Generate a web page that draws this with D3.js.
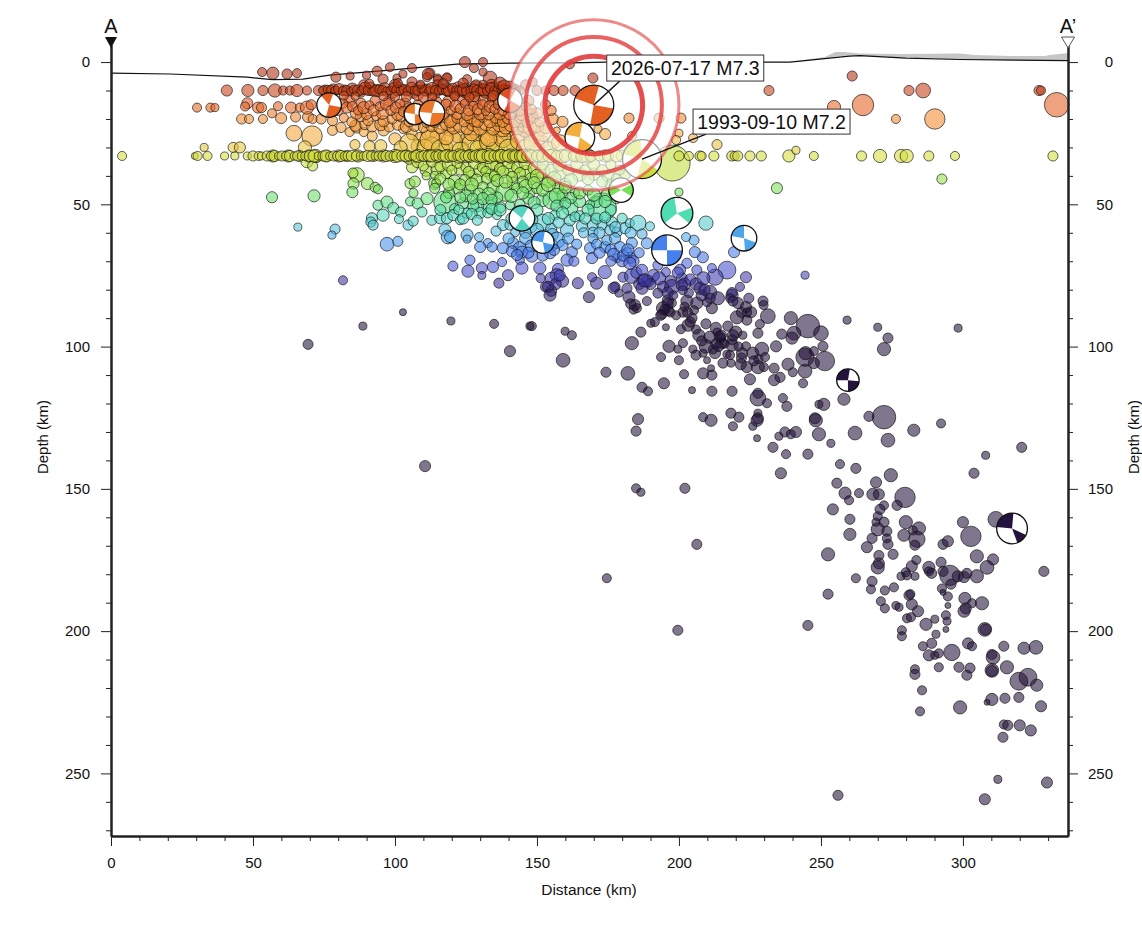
<!DOCTYPE html>
<html>
<head>
<meta charset="utf-8">
<title>Depth section A-A'</title>
<script src="https://cdn.jsdelivr.net/npm/d3@7"></script>
<style>
    html, body { margin: 0; padding: 0; background: #fff; }
    text { font-family: "Liberation Sans", Arial, sans-serif; fill: #111; }
    .axis path, .axis line { stroke: #222; }
    .axis text { font-size: 15px; }
</style>
</head>
<body>
<div id="chart-container"></div>
<script>
// every row below: distance along profile (km), depth (km), magnitude
var surfaceEvents = [[53.2,3.5,4.3],[57,3.9,4.6],[62,4.2,4.4],[65.5,3.9,4.3],[79.2,5.3,4.4],[84.2,4.9,4.2],[90,4.6,4.2],[93.7,3.2,4.4],[98.2,1.8,4.3],[95.8,6,4.4],[100.7,5.6,4.2],[102.8,4.2,4.2],[106,2.1,4.3],[112.3,3.9,4.4],[111.3,5.3,4.3],[106,7,4.4],[115,5.6,4.2],[118.3,5.3,4.2],[124.6,0,4.5],[131,0,4.3],[127.8,2.1,4.3],[133.5,5.6,4.75],[131,3.5,4.2],[111.6,4.2,4.5],[118.3,5.6,4.4],[115,6.3,4.3],[125.4,6,4.3],[161.6,0.8,4.3],[169.7,5.6,4.4],[261,4.9,4.4]];

var band10 = [[40.8,10,4.5],[48.2,10,4.6],[53.5,10,4.4],[57.7,10,4.7],[60.6,10,4.3],[63,10,4.3],[65.5,10,4.6],[69,10,4.3],[73,10,4.4],[74.7,10,4.3],[76.2,9.6,4.2],[77.5,10,4.4],[79,10,4.3],[80.3,9.5,4.5],[81.6,10.2,4.3],[83,10,4.4],[84.4,10.4,4.2],[85.5,9.7,4.3],[87,10,4.5],[88.2,10,4.3],[89.5,9.2,4.6],[90.6,10,4.4],[92,10.3,4.3],[93.1,10,4.5],[94.5,9.6,4.3],[95.7,10,4.4],[97,10.4,4.3],[98.2,10,4.2],[99.6,9,4.4],[100.8,10,4.5],[102,10,4.3],[103.2,9.7,4.4],[104.5,10.2,4.3],[105.8,9,4.5],[107,10,4.3],[108.1,10,4.4],[109.4,9.5,4.2],[110.7,10,4.5],[112,10.3,4.3],[113,9.3,4.6],[114.3,10,4.4],[115.5,10,4.3],[116.8,9.6,4.4],[118,10.2,4.3],[119,10,4.5],[120.4,9.2,4.4],[121.6,10,4.3],[123,10,4.5],[124.1,9.7,4.6],[125.2,10.2,4.4],[126.6,10,4.3],[127.8,9.4,4.4],[129,10,4.5],[130.1,10.3,4.3],[131.4,9.8,4.6],[132.6,10,4.4],[133.8,9.2,4.5],[135,10,4.3],[136.2,10.2,4.4],[137.5,9.6,4.3],[138.6,10,4.5],[139.8,10,4.4],[141,10,4.3],[142.4,9.6,4.4],[144,10,4.3],[146,8,4.4],[148.5,7,4.3],[150,10,4.4],[153,10,4.3],[156,10,4.4],[159.2,10,4.4],[163.4,10,4.4],[231.7,10,4.4],[281,10,4.4],[286,10,4.85],[326.8,10,4.4],[327.5,10,4.3]];

var extra10 = [[75.4,10,4.5],[78.3,9.8,4.6],[82.2,10,4.5],[85,9.5,4.6],[88,10.4,4.5],[91.2,9.4,4.7],[94,10,4.6],[96.4,9.2,4.5],[99,10.6,4.6],[101.4,9.4,4.7],[103.8,10,4.5],[106.4,10.6,4.6],[108.8,9.2,4.7],[111.3,9.8,4.6],[113.6,10.6,4.8],[116.2,9.4,4.6],[118.6,9.8,4.7],[120.8,10.6,4.5],[122.4,9.2,4.7],[124.7,10,4.8],[127,10.6,4.7],[128.4,9.2,4.8],[130.6,9.6,4.6],[132,10.4,4.7],[134.4,9.6,4.8],[135.6,10.8,4.5],[137,9.2,4.7],[139,10.4,4.8],[140.4,9,4.7],[142,10.6,4.6],[126,11,4.7],[115,8,4.4],[128.6,8.2,4.5],[134,8,4.5],[100,8,4.5],[89,8,4.4],[108,11.6,4.5],[121,11.4,4.4]];

var upperCrust = [[82,11.8,4.3],[86,12,4.2],[91,7.6,4.3],[96,12,4.3],[101,7.4,4.3],[104,12.2,4.4],[109,7.8,4.2],[113,12.4,4.3],[117,7.6,4.4],[121,12,4.3],[124,7.4,4.4],[128,12.2,4.4],[131,7.8,4.2],[134,12.4,4.3],[137,7.4,4.6],[140,12,4.5],[143,12.6,4.3],[134.6,11.8,4.4],[138.4,8.4,4.6],[126.2,12.4,4.3],[110,12.4,4.4],[100,12.2,4.3]];

var band15 = [[30.3,16,4.3],[35,16,4.3],[36.6,16,4.2],[48,14.5,4.5],[47.2,15.6,4.3],[51.8,16,4.5],[53,16,4.4],[58.8,15.5,4.3],[63.4,16,4.5],[66.5,16,4.3],[69,16,4.7],[70.5,15,4.4],[83,16,4.5],[85,15.6,4.4],[87,17,4.3],[89,16,4.6],[91,15.2,4.3],[92.5,17,4.5],[94.6,15.6,4.3],[97,14.8,4.6],[98.6,17,4.4],[100.3,16,4.5],[101.8,14.6,4.3],[103,17.4,4.4],[118,15,4.5],[119.6,17,4.3],[121.4,15.5,4.6],[123,16.4,4.4],[124.6,14.6,4.3],[126,17,4.5],[127.6,15.4,4.3],[129.2,16.6,4.5],[130.8,15,4.4],[132,17.2,4.3],[133.6,15.6,4.6],[135.2,16.5,4.4],[136.6,14.8,4.5],[138,17,4.4],[139.5,15.6,4.5],[141,16.4,4.3],[142.5,15,4.4],[144,17,4.5],[146,15.5,4.3],[148,16.6,4.4]];

var extra15 = [[84,13.8,4.5],[86.4,18,4.6],[88,14.4,4.4],[90,18.2,4.5],[93,13.6,4.4],[95.6,18,4.6],[98,13.8,4.5],[101,18.4,4.6],[103.6,14.6,4.5],[105,16.4,4.6],[108,15,4.4],[110,17,4.5],[114.5,14,4.5],[117,18,4.6],[119,13.8,4.6],[122,18.2,4.5],[124,13.4,4.5],[125.4,18.4,4.6],[128,14,4.7],[130,18.2,4.6],[131.4,13.4,4.6],[133,18.4,4.5],[135,13.8,4.7],[137,18.2,4.6],[138.6,13.6,4.6],[140.5,18,4.7],[142,13.8,4.6],[144.6,18.6,4.5],[147,13.6,4.5],[150,18,4.5],[153,15,4.4],[155,17,4.4],[80,17,4.4],[81.6,14.5,4.4]];

var band20 = [[46,20,4.4],[48.6,20,4.3],[53.5,20,4.3],[56.7,18,4.3],[59.9,19.7,4.5],[65,19.3,4.4],[69.4,19.3,4.5],[71,20,4.3],[74,20,4.4],[78,20.6,4.4],[82,19.6,4.3],[84.8,21,4.4],[88,19,4.5],[90.5,20.6,4.4],[93.4,19,4.3],[96,20.8,4.5],[99,20,4.4],[102,19.4,4.3],[105,21,4.4],[108,20,4.3],[111,21.5,4.2],[114,21,4.5],[117,19.4,4.4],[119.5,21,4.6],[122,19.6,4.5],[124.4,21,4.4],[126.6,19.5,4.6],[129,21,4.5],[131,19.4,4.4],[133.4,21,4.6],[135.6,19.6,4.5],[138,21,4.5],[140,19.5,4.7],[142.2,21,4.5],[144.4,19.6,4.6],[146.6,21,4.5],[148.8,19.6,4.4],[151,21,4.4],[159,21,4.5],[182.4,19.7,4.4],[193,19.7,4.4],[200.7,19.7,4.4],[254.6,15.8,4.7],[264.8,15.1,5.5],[276.4,20,4.3],[290.1,20,5.4],[333,15,5.8]];

var extra20 = [[86,22.4,4.5],[89.4,22,4.4],[92,22.6,4.5],[95,22,4.6],[98,22.8,4.4],[101,22,4.5],[104,22.6,4.6],[107,22.4,4.5],[110,23,4.4],[113,22.4,4.6],[116,22.8,4.7],[118,22,4.5],[120.6,23,4.7],[123,22.2,4.8],[125.4,23.4,4.6],[127.6,22,4.7],[130,23.2,4.8],[132,22,4.6],[134.6,23.4,4.7],[136.8,22,4.8],[139,23,4.7],[141,22,4.8],[143.2,23.4,4.6],[145.4,22.4,4.7],[147.6,23.2,4.8],[150,22.4,4.7],[153,23,4.6],[155.6,20,4.5],[148,18.6,4.6],[144,20.6,4.7],[136,20.4,4.6],[128,20.4,4.7],[120,20.4,4.6],[112,19.6,4.5]];

var band25 = [[64.4,25,4.95],[70.8,26,5.4],[68.3,30,4.7],[32.8,30,4.2],[43,30,4.4],[45.4,30,4.5],[78,24,4.4],[81,23,4.4],[84,24.6,4.3],[86.5,23,4.5],[89,24.6,4.3],[92,26,4.4],[96,24,4.5],[85.9,29,4.4],[100,27,4.6],[103,23.4,4.4],[106,25.4,4.5],[109,27,4.7],[112,24.6,5.0],[115,26,4.9],[119,24,4.5],[122,26,4.7],[125,27,4.6],[128,24.5,4.7],[131,26,4.8],[134,24,4.6],[137,26,4.9],[140,24,4.7],[143,26,4.8],[146,24,4.7],[148,27,4.9],[150,25,4.8],[152,28,4.6],[108,29.5,4.7],[113,29,4.9],[118,29.8,4.7],[124,30,4.5],[130,28.5,4.8],[136,29,5.0],[142,29.5,4.9],[157,24,4.1],[165,24,4.2],[171.5,23.6,4.2],[174,25.3,4.5],[183.5,26,4.3],[200,25,4.2],[199,27.4,4.3],[205,26.7,4.3],[213.4,29,4.4],[150,31,4.9],[156,28,4.7],[162,30,4.5]];

var extra25 = [[105,28.6,5.3],[110.6,30,5.0],[112.4,27.4,5.4],[116,30.5,5.2],[120,28,5.5],[123,31,5.0],[127,28.8,5.3],[129.4,30.6,5.1],[133,28,5.2],[135,31,5.0],[138,27,5.1],[140,30.5,5.3],[144,27.6,5.3],[146,30.4,5.2],[149,28.4,5.4],[152,25,5.0],[154,31,5.1],[158,28.4,5.0],[127,25,4.9],[138,23.6,4.9],[146,23.6,5.0],[133,26.8,5.0],[118,26.6,4.8],[102,30,4.7],[95,29.4,4.6],[91,29.6,4.5]];

var band33 = [[3.9,33,4.3],[29.5,33,4.1],[30.5,33,4.3],[34,33,4.3],[40,33,4.2],[43.6,33,4.2],[48,33,4.2],[50,33,4.4],[52,33,4.3],[53,33,4.2],[55,33,4.4],[56.3,33,4.3],[57.6,33,4.5],[59,33,4.2],[60.2,33,4.4],[61.6,33,4.3],[63,33,4.5],[64.5,33,4.2],[65.7,33,4.4],[67,33,4.2],[68.4,33,4.3],[70,33,4.5],[71.5,33,4.6],[73,33,4.2],[74.6,33,4.4],[75.8,33,4.6],[77,33,4.2],[78.4,33,4.4],[79.6,33,4.3],[81,33,4.5],[82.3,33,4.3],[83.5,33,4.4],[84.8,33,4.5],[86.4,33,4.4],[87.8,33,4.2],[89,33,4.3],[90.4,33,4.5],[91.7,33,4.4],[93,33,4.2],[94.4,33,4.4],[95.6,33,4.3],[97,33,4.5],[98.3,33,4.4],[99.5,33,4.3],[101,33,4.6],[102.4,33,4.4],[103.7,33,4.5],[105,33,4.4],[106.2,33,4.2],[107.5,33,4.5],[109,33,4.3],[110.3,33,4.5],[111.6,33,4.4],[113,33,4.6],[114.2,33,4.3],[115.6,33,4.5],[116.8,33,4.4],[118,33,4.6],[119.4,33,4.4],[120.6,33,4.5],[122,33,4.3],[123.4,33,4.6],[124.6,33,4.4],[126,33,4.5],[127.2,33,4.3],[128.6,33,4.6],[129.8,33,4.5],[131,33,4.7],[132.4,33,4.4],[133.6,33,4.6],[135,33,4.5],[136.2,33,4.4],[137.6,33,4.7],[138.8,33,4.5],[140,33,4.6],[141.4,33,4.4],[142.6,33,4.6],[144,33,4.5],[145.2,33,4.7],[146.4,33,4.4],[148,33,4.6],[150,33,4.5],[152,33,4.6],[154.5,33,4.7],[157,33,4.5],[160,33,4.6],[163,33,4.5],[166,33,4.7],[169,33,4.5],[172,33,4.4],[175,33,4.5],[178,33,4.6],[183,33,4.5],[191,33,4.7],[197.6,35.5,6.9],[200,33,4.4],[203.5,33,4.3],[207.4,33,4.4],[208,33,4.3],[212.3,33,4.4],[218.6,33,4.4],[219.6,33,4.3],[220.7,33,4.4],[225,33,4.4],[229,33,4.4],[238.7,33,4.6],[241.2,31,4.2],[247.5,33,4.3],[264.3,33,4.4],[270.8,33,4.7],[278.2,33,4.7],[280.2,33,4.7],[288,33,4.4],[297.2,33,4.3],[331.7,33,4.4]];

var extra33 = [[57,33,4.6],[62.4,33,4.6],[66.4,33,4.5],[69.6,33,4.6],[72,33,4.7],[76,33,4.5],[80.2,33,4.6],[83,33,4.5],[87,33,4.6],[92.4,33,4.5],[96,33,4.6],[100,33,4.7],[104,33,4.6],[108,33,4.7],[112,33,4.6],[115,33,4.7],[118.6,33,4.7],[122.6,33,4.8],[126.4,33,4.7],[130,33,4.8],[133,33,4.9],[136.8,33,4.7],[140.6,33,4.8],[144.6,33,4.7],[147,33,4.8],[151,33,4.7],[155.6,33,4.8],[159,33,4.7],[164,33,4.6],[168,33,4.8],[174,33,4.6],[180,33,4.6]];

var limeEvents = [[69,35,4.6],[71,36.5,4.4],[72.5,33.5,4.4],[105,34,4.5],[108,35,4.6],[110,36.5,4.4],[113,35,4.5],[116,36.6,4.5],[119,36,4.7],[122,35.4,4.5],[125,37,4.4],[128,35.5,4.6],[131,37,4.5],[134,35.6,4.7],[137,37.5,4.5],[140,35.4,4.6],[143,37,4.5],[146,35.5,4.7],[149,37.4,4.6],[152,36,4.5],[155,38,4.6],[158,36,4.7],[161,38,4.5],[164,36,4.6],[167,38,4.5],[170,36,4.6],[173,38,4.5],[176,36,4.4],[179,38,4.4],[150,40,4.7],[156,41,4.8],[162,41.5,4.7],[168,41,4.6],[173,42,4.5],[178,41,4.4],[120,38,4.4],[126,38.6,4.5],[132,38.4,4.4],[138,38.6,4.6],[144,39,4.5]];

var extraLime = [[106,37,4.5],[111,38,4.6],[115,37.6,4.7],[118,39,4.5],[123,37.6,4.6],[127,40,4.5],[130,38,4.7],[134,39.6,4.6],[136,36.4,4.7],[141,38,4.8],[146,38.6,4.7],[148,41,4.6],[152,38.4,4.8],[154,42,4.6],[158,39,4.7],[160,43,4.6],[165,39.6,4.7],[170,39.4,4.6],[175,40,4.6],[176,43,4.5],[181,39.5,4.5],[183,36.5,4.5],[186,35,4.5],[188,37.4,4.4]];

var greenEvents = [[86.6,39.7,4.85],[85.2,39,4.4],[85.4,42.7,4.5],[85,45.7,4.5],[90.3,42.7,4.6],[93,44,4.4],[94,44.7,4.3],[56.7,47.5,4.5],[71.5,47,4.6],[105.3,42.7,4.4],[107,42,4.5],[106.5,46,4.3],[105.3,49,4.3],[108,49.7,4.5],[111.3,48,4.6],[114,42.6,4.6],[114.5,42.6,4.3],[114,44.4,4.4],[111,40,4.2],[114,39.8,4.2],[117.6,49.2,5.6],[121,42,4.7],[124.6,41.5,4.5],[128.8,41.5,4.6],[132.4,41,4.5],[122,44.4,4.5],[126.4,45,4.5],[131,44,4.5],[134.5,44,4.6],[138.7,45.7,5.2],[141.6,42.6,4.6],[141.2,40.4,4.5],[147.5,46,4.4],[150,44.3,4.5],[152,48.5,4.7],[155.3,48.5,5.2],[157.4,44.3,4.5],[159,46.8,4.5],[163.4,46,4.3],[172.9,51,6.2],[178,48,4.4],[171,49.2,4.5],[168.7,50,4.3],[161.6,51,5.0],[180,46,4.3],[133.4,50.3,5.0],[129,50.3,4.7],[124,49.6,4.5],[121,51.5,4.4],[127.6,50.7,4.5],[137,51,4.5],[140.5,50.3,4.3],[200,45.7,4.2],[234.5,44.3,4.5],[292.6,41.1,4.4],[145,42,4.5],[147,48,4.5],[135,40,4.4],[119,46,4.5],[125,47,4.6],[136,47.6,4.5],[144,50,4.4],[165,49,4.6],[176,52,4.5]];

var extraGreen = [[116,41,4.5],[119,43,4.6],[123,43,4.5],[127,43,4.7],[129.6,46.4,4.6],[133,46.4,4.7],[136,41.6,4.6],[139,42,4.7],[143,44.4,4.5],[146,43.6,4.7],[149,42.4,4.6],[152,45,4.6],[154,43,4.8],[157,47,4.9],[160,44,4.6],[162,47.8,4.5],[165,46,4.6],[168,45,4.4],[170,46.6,4.7],[175,46.4,4.7],[118,47.6,4.5],[123,47.6,4.5],[127.4,48,4.5],[131,48,4.6],[134,48.4,4.5],[141,47,4.7],[145,46,4.6],[149,49.4,4.6],[157,50.6,4.6],[160,49.6,4.5],[168,52,4.6],[174,49,4.6]];

var tealEvents = [[91.9,54.9,4.5],[91.5,56.2,4.4],[92.3,57.3,4.4],[95.8,53.8,4.6],[94,50.3,4.4],[97.2,49.2,4.6],[99.4,51.3,4.5],[102,52.7,4.4],[101.4,55.2,4.3],[104.6,57.3,4.4],[106.4,55.9,4.4],[109.5,52.7,4.4],[113,55.6,4.4],[115.9,54.9,4.5],[118.3,54.9,4.5],[120.5,53.8,4.5],[122.9,55.6,4.3],[125.4,53.1,4.4],[130,53,4.5],[132.7,53,4.4],[135.9,53.8,4.3],[117.6,59,4.6],[152,56.3,5.0],[156.3,53.8,4.4],[160.6,59,4.7],[161.6,55.6,4.5],[165.8,57.7,4.5],[169.7,57.3,4.5],[172.9,57.3,4.4],[176.4,56.3,4.5],[180,54.9,4.4],[169.7,59.8,4.4],[175.7,59,4.4],[178.2,59.8,4.4],[181,58.4,4.5],[182.7,56.6,4.3],[185.6,56.6,4.95],[189.8,57.7,4.3],[209.5,56.6,4.8],[138,57.3,4.5],[140.5,57.3,4.4],[142.3,59.8,4.3],[78.9,58.7,4.4],[65.8,58,4.2],[148,58,4.5],[155,58.6,4.5],[165,54,4.4]];

var extraTeal = [[116,52,4.5],[122.5,52,4.4],[124,55,4.5],[127,53.4,4.5],[129,55.6,4.4],[134,51.6,4.5],[137,52,4.6],[146,54,4.5],[148,55.4,4.7],[150,52,4.6],[154,55,4.6],[157.6,56.4,4.5],[159,53,4.6],[163.4,54.4,4.4],[167,55,4.5],[171,55,4.5],[174,54.6,4.5],[177.6,58,4.5],[172,60,4.5],[166.4,60,4.4],[183,60,4.5],[187,60.4,4.4],[150,59,4.7],[155.4,60.6,4.6],[146,60,4.5],[141,55,4.5]];

var blueEvents = [[77.8,60.8,4.2],[97.2,64,4.75],[101,63,4.4],[118.7,61.5,4.75],[119.4,61.5,4.5],[125.4,60.8,4.6],[125.4,62.2,4.2],[129.6,61.5,4.3],[135.6,59.4,4.4],[132.7,63.6,4.3],[130,65,4.5],[134.2,65,4.4],[138,65.4,4.5],[141.6,63.6,4.5],[144,65.4,4.7],[141.2,66.5,4.5],[144.7,66.8,4.6],[148.2,68.2,4.6],[144,69.6,4.3],[137.7,70.3,4.3],[154.6,64.3,4.85],[157,62.6,5.0],[159,64.3,4.5],[162.3,66.8,4.5],[160.6,69.6,4.6],[154.6,67.2,4.5],[168.7,65.4,4.5],[169.7,62,4.4],[174,65,4.5],[174.6,62.6,4.4],[177.5,62,4.5],[169.4,68.9,4.5],[179.2,65,4.5],[181.7,67.2,4.5],[183.4,63.6,4.5],[178.2,68.9,4.3],[205.3,62.6,4.4],[202.5,61.5,4.3],[208.4,68.6,4.5],[205.6,66.8,4.5],[219.4,66.8,4.5],[188.7,63.7,4.5],[202.8,70.7,4.4],[192.6,71.4,4.4],[180,70,4.5],[183,68.8,4.5]];

var extraBlue = [[140,62,4.5],[146,62,4.6],[148,64.6,4.6],[143,67.8,4.5],[147,67,4.5],[151,64,4.6],[152,68,4.5],[156,66,4.5],[161,62,4.5],[164,64,4.4],[171,64,4.4],[172,67,4.5],[176,66,4.5],[177,67.6,4.6],[180.4,68,4.5],[182,66,4.6],[184,70,4.5],[186,67,4.4],[176,70,4.4],[163,70,4.4]];

var indigoEvents = [[120.4,71.7,4.4],[125.7,73.5,4.6],[126.4,69.6,4.4],[130.6,72.4,4.5],[130.6,75,4.2],[134.5,72,4.5],[139.8,74.9,4.5],[144.7,72.4,4.6],[151,72.4,4.6],[151.3,76,4.3],[157.4,72.7,4.5],[157,74.9,4.7],[159,77,4.6],[136.6,77.7,4.4],[164.4,77.7,4.5],[168.3,82.6,4.5],[171,77.7,4.6],[169.4,75.6,4.3],[173.9,73.8,4.7],[177.5,79,4.4],[180.3,75.6,4.4],[183.4,75.2,4.85],[182.7,70.7,4.6],[187.3,76.7,4.6],[201,76,4.5],[206.3,73.1,4.4],[216.9,73.1,5.15],[212.7,75.6,5.0],[211.6,72.4,4.3],[223.6,75.6,4.5],[200.4,73,4.5],[195.4,73.8,4.3],[244.4,74.9,4.2],[81.7,76.7,4.3]];

var extraIndigo = [[155,76,4.6],[156.6,78,4.5],[158,75,4.5],[153,79,4.4],[155,80.4,4.5],[185,74,4.5],[187,73,4.5],[189,77,4.6],[186,78,4.5],[191,75,4.6],[193,76,4.7],[199.6,74,4.5],[202,78,4.6],[204,76.4,4.5],[206,78,4.6],[208.6,76,4.7],[197,77,4.5],[190,78,4.5]];

var slabUpper = [[153.9,79,4.5],[154.6,81.9,4.6],[177,79.4,4.5],[178.9,81.2,4.2],[182.4,82.6,4.6],[181.7,79.5,4.4],[184.5,85.4,4.5],[185.2,86.5,4.3],[188.7,84,4.3],[187,79.5,4.6],[188,76.7,4.7],[192.6,81.2,4.4],[194.4,79,4.5],[197.5,79,4.85],[201,78.4,4.5],[201.4,80.2,4.3],[196.1,83.7,4.5],[194.4,86.5,4.7],[196.1,87.2,4.5],[194,88.6,4.4],[197.5,84.7,4.3],[199,89,4.3],[201.4,87.9,4.4],[202.8,84,4.6],[206.3,84.7,4.6],[205.3,87.2,4.3],[203.5,81.2,4.3],[207.4,79.5,4.6],[210.9,80.9,4.75],[213.7,83,4.7],[211.6,86.5,4.5],[209.9,84.4,4.3],[204.6,90,4.4],[203.2,92.5,4.6],[209.5,92,4.4],[207,96,4.6],[200.7,93.9,4.3],[195.4,93.2,4.1],[191.5,91.4,4.3],[190.1,91.8,4.2],[186.6,94.9,4.4],[183.4,98.8,4.7],[159.9,94.6,4.2],[162.3,96,4.3],[148.2,92.8,4.3],[159.2,104.8,4.75],[174.3,109,4.4],[182,109.4,4.75],[194.7,112.9,4.5],[187,114.3,4.4],[189.1,115.7,4.3],[204.6,115.3,4.1],[211.6,115.7,4.4],[218.7,115.7,4.4],[201.8,109.7,4.3],[208.5,109.4,4.5],[211.6,110,4.4],[211.3,107.6,4.1],[196.5,99.9,4.6],[199.6,100.9,4.2],[201.4,98.8,4.3],[193.7,103.7,4.3],[200,104.8,4.3],[204.9,100.9,4.2],[206,103,4.4],[208.5,102.3,4.2],[209.5,99.9,4.75],[209.9,104.8,4.1],[210.9,96.7,4.6],[213.4,94.9,4.2],[214.8,97,4.3],[212.7,102.3,4.5],[215,98.8,4.5],[217.2,92.8,4.4],[220,94.9,4.6],[222.5,96,4.2],[218.7,99.5,4.6],[216.9,102.7,4.2],[223.6,99.9,4.3],[222.2,102.3,4.5],[215.5,105.8,4.4],[218.3,105.8,4.2],[221.8,106.2,4.5],[223.9,107.2,4.5],[226,102.3,4.6],[229.2,100.9,4.75],[230.3,103.7,4.3],[227.8,107.2,4.7],[229.9,107.2,4.3],[233.5,107.6,4.4],[225,111.5,4.5],[233.5,111.8,4.5],[235.6,110.8,4.4],[240.1,109,4.3],[238.4,106.2,4.6],[244.4,108.6,4.75],[243.7,112.9,4.3],[244.4,103.7,5.2],[244.6,102.3,4.7],[251.4,105.1,5.3],[247.5,101.6,4.3],[250.7,99.9,4.4],[247.5,105.8,4.5],[234.2,99.9,4.5],[231.3,89.3,4.85],[228.5,92.1,4.3],[227.8,95.3,4.4],[225.4,87.9,4.5],[223.9,90.7,4.4],[224.6,83,4.4],[229.6,84,4.4],[229.8,85.4,4.3],[220.8,84.7,4.5],[220.4,89.7,4.7],[218.7,81.9,4.6],[218.7,81,4.4],[223.6,86.1,4.5],[221.5,79,4.3],[239.4,90,4.7],[245.4,92.8,5.7],[240.5,95.3,4.75],[239.8,97,4.6],[236.2,95.6,4.4],[250,95.3,4.85],[259.2,90.7,4.2],[213,93.4,4.5],[214.4,96.6,4.5],[213,99,4.4],[218.7,97.6,4.4],[270,93.2,4.2],[273.6,97,4.4],[272.2,100.9,4.7],[298.3,93.5,4.2]];

var darkClusters = [[196,85,4.5],[195,87,4.4],[197,88,4.3],[193.6,89,4.4],[196,81,4.5],[198,82,4.3],[202,86,4.3],[203,88,4.4],[208,82,4.5],[209,80,4.5],[211,83,4.4],[218,83,4.3],[219,84,4.4],[222,88,4.4],[224,88,4.3],[183,85,4.4],[184,87,4.3],[204,91.4,4.4],[206,94,4.3],[215,96,4.4],[216,99,4.3],[219,96,4.5],[221,100,4.3],[218,103,4.3],[212,101,4.3],[222,104,4.4],[214,100,4.4],[208,98,4.4],[226.4,105,4.4],[228,104.4,4.3]];

var outliers = [[69.4,99.2,4.4],[88.7,92.8,4.2],[102.8,87.9,4.1],[119.7,91,4.2],[134.9,92,4.3],[147.5,92.8,4.2],[140.5,101.6,4.5],[110.6,142,4.5],[174.6,181.4,4.3],[199.6,199.7,4.4],[206.3,169.5,4.4],[245.4,198,4.4],[256,257.7,4.4],[307.7,259.1,4.5],[312.3,252.1,4.2],[329.6,253.2,4.5]];

var slabMiddle = [[227.8,118.1,4.95],[227.8,116.4,4.4],[231,119.9,4.3],[236.6,118.1,4.3],[238,121,4.4],[249.3,120.3,4.2],[251,120.3,4.6],[258.1,118.5,4.6],[247.9,125.2,4.5],[218.3,123.4,4.4],[221.1,124.8,4.4],[227.8,123.4,4.2],[227.8,125.2,4.5],[208.5,124.8,4.3],[211.3,125.9,4.6],[185.6,125.5,4.5],[184.9,129.7,4.4],[184.9,149.8,4.3],[186.6,151.2,4.2],[202.1,149.8,4.4],[219,128,4.3],[226,128,4.2],[227.5,125.9,4.6],[227.5,132.2,4.1],[233.1,135.4,4.4],[235.2,131.5,4.2],[237.3,130,4.4],[239.4,130.8,4.3],[241.2,130,4.5],[237.7,137.8,4.3],[245.4,137.8,4.4],[235.9,144.5,4.5],[248.2,125.9,4.7],[249.3,130.8,4.7],[253.5,134,4.2],[262,130.4,4.75],[273.6,132.9,4.75],[272.2,124.8,5.7],[266.9,124.5,4.4],[282.7,129.4,4.6],[292.3,127,4.3],[256.7,141.3,4.3],[262.3,142.8,4.4],[274.6,145.2,4.7],[269.4,147.7,4.5],[255.6,148,4.4],[258.5,151.5,4.6],[263.4,151.5,4.3],[259.9,154,4.3],[268.3,151.9,4.6],[270.4,151.9,4.5],[254.2,157.2,4.5],[303.9,144.5,4.4],[308,138.2,4.2],[320.7,135.4,4.4]];

var slabLower = [[279.6,153,5.4],[276.8,155.8,4.4],[272.2,155.8,4.3],[270.8,157.2,4.4],[270,159.6,4.3],[260.2,160.7,4.4],[269.4,161.7,4.2],[272.2,161.7,4.4],[270,164.2,4.7],[273.2,164.9,4.4],[260.2,166,4.6],[279.9,161.7,4.7],[284.5,163.9,4.7],[282.4,164.6,4.3],[279.2,166.3,4.6],[283.8,167.7,5.0],[283.1,169.8,4.4],[268,167.4,4.4],[273.2,167.4,4.3],[273.6,169.5,4.4],[266.2,170.5,4.5],[275.4,173,4.4],[252.5,173,4.7],[270.4,173.4,4.4],[270.4,176.2,4.5],[270,177.6,4.7],[262.3,181.4,4.3],[268,182.5,4.4],[267.6,185.3,4.3],[252.5,187,4.4],[272.5,185.7,4.3],[275.7,184.6,4.3],[271.1,189.5,4.3],[272.5,192,4.3],[276.4,191,4.2],[277.5,191.6,4.2],[281,187.4,4.4],[281.5,187,4.3],[282,190.6,4.5],[284.2,193,4.5],[280.3,195.5,4.3],[281.7,195.1,4.3],[287,197.6,4.6],[290.1,195.8,4.2],[282,177.2,4.5],[283.6,175,4.3],[279.9,179.3,4.3],[278.2,180.7,4.2],[283.1,180.7,4.2],[280.3,180.4,4.3],[288,177.6,4.6],[292.3,175.8,4.4],[288,179,4.3],[289,179.7,4.4],[293,179,4.4],[295.4,180.4,5.4],[293,169.5,4.4],[294.7,168.4,4.5],[300,161.7,4.5],[302.8,166.7,5.4],[304.9,173.7,4.7],[310.6,174.8,4.5],[308.5,177.6,4.75],[304.9,180.7,4.7],[301.4,179.7,4.4],[298.2,180.7,4.5],[300.4,181,4.5],[295.8,183.5,4.4],[292.6,185,4.3],[293,186.4,4.0],[294.7,187.8,4.3],[300.7,188.5,4.6],[303.2,190.2,4.3],[306.7,190.2,4.7],[301,192,4.5],[300.4,193,4.6],[294.7,191,4.0],[294,194.4,4.3],[294.4,196.5,4.2],[294,199.4,4.0],[290.5,201.1,4.2],[278.5,199.7,4.3],[278.5,201.8,4.3],[289,204.3,4.4],[285.9,205.3,4.3],[296.1,207.5,5.0],[288,208.5,4.5],[290.1,208.5,4.2],[291.5,207.8,4.3],[301.8,204.3,4.5],[303.2,205.3,4.3],[307.7,199.4,4.75],[307.9,199.4,4.5],[314.4,205.3,4.4],[321.5,206,4.6],[325.7,205.7,4.75],[310.2,208.2,4.4],[310.6,209.2,4.75],[310.2,213.8,4.75],[310.2,214,4.5],[315.5,212.7,4.7],[291.5,212.7,4.3],[298.6,212.7,4.4],[302.5,213,4.4],[301.4,215.5,4.4],[283.1,213.4,4.3],[283.1,215.2,4.4],[319.7,217.6,5.15],[322.9,216.2,5.15],[326,219,4.6],[285.6,220.8,4.3],[284.9,228.2,4.3],[299,226.8,4.7],[308.5,225,4.0],[310.2,224,4.6],[314.8,223.6,4.4],[319.7,223.3,4.4],[327.5,226.4,4.5],[314.4,232.8,4.3],[315.8,233.1,4.4],[320,233.1,4.5],[323.9,234.9,4.5],[314.1,237.3,4.4],[328.5,179,4.4],[311.6,160.7,4.95]];

var eventGroups = [band25, extra25, extra20, band20, extra15, band15, surfaceEvents, extra10, band10, upperCrust, extraLime, limeEvents, extra33, band33, greenEvents, extraGreen, tealEvents, extraTeal, blueEvents, extraBlue, indigoEvents, extraIndigo, slabUpper, darkClusters, outliers, slabMiddle, slabLower];

// focal mechanisms: two compressional lobes, degrees clockwise from north
var mechDist = [76.8, 107, 113, 140.5, 170, 165.1, 187, 179.6, 199.3, 144.7, 152.1, 195.8, 222.9, 259.5, 317.3];
var mechDepth = [15.1, 18.3, 17.9, 13.4, 15.1, 26.4, 34.1, 45, 53.1, 54.9, 63.3, 66.1, 61.9, 111.8, 163.9];
var mechMag = [5.8, 5.5, 5.9, 5.8, 7.3, 6.3, 7.2, 5.8, 6.5, 5.9, 5.6, 6.4, 5.9, 5.6, 6.4];
var mechLobes = [[-40,20,100,195],[-80,0,95,180],[-85,15,90,190],[-60,30,120,210],[-70,15,100,190],[-80,10,125,190],[-75,-5,125,195],[60,120,240,300],[-130,-10,70,130],[-50,30,140,215],[-80,10,105,170],[-90,0,90,180],[-80,0,110,175],[-90,10,95,180],[-85,5,115,160]];

var profileDist = [0, 20.8, 47.9, 56.7, 67.6, 77, 98.2, 121.8, 140.5, 161.6, 174.6, 239, 242.6, 260, 263.7, 280, 299, 337];
var profileDepth = [3.9, 4.2, 5.3, 6.2, 6, 4.6, 2.8, 0.7, 0.35, 0.25, 0, 0, -0.35, -2.1, -2.3, -1.4, -0.9, -0.5];
var swathDist = [239, 251.4, 255, 258.5, 263.7, 277.8, 299, 304.2, 316.5, 328.9, 330.6, 337];
var swathTop = [0, -1.8, -3.5, -3.5, -3, -2.8, -3, -2.5, -2.1, -2.1, -2.5, -3.2];
var swathBottom = [0, -1.2, -1.9, -2.2, -2.3, -1.7, -0.9, -0.8, -0.6, -0.6, -0.6, -0.5];

var depthStops = [0, 8, 14, 20, 27, 33, 39, 46, 53, 59, 65, 72, 78, 86];
var depthColors = ['#a82a14', '#b8320f', '#e0561f', '#f08a30', '#f4b040', '#d4dc3c', '#a4e040', '#70e060', '#50dcb0', '#58c0e0', '#4488f0', '#4c58d8', '#362a90', '#24133c'];

var xMajor = [0, 50, 100, 150, 200, 250, 300];
var xMinor = d3.range(10, 340, 10).filter(function (d) { return d % 50 !== 0; });
var yMajor = [0, 50, 100, 150, 200, 250];
var yMinor = d3.range(10, 280, 10).filter(function (d) { return d % 50 !== 0; });

var quakeLabels = ['2026-07-17 M7.3', '1993-09-10 M7.2'];
var ringRadiiKm = [17.2, 24, 30];

var width = 1142;
var height = 942;

var x = d3.scaleLinear().domain([0, 337]).range([111, 1068]);
var y = d3.scaleLinear().domain([-6, 272]).range([45, 836]);
var color = d3.scaleLinear().domain(depthStops).range(depthColors).clamp(true);
var radius = d3.scaleLinear().domain([4, 7.3]).range([3, 20]);

var svg = d3.select('#chart-container')
    .append('svg')
    .attr('width', width)
    .attr('height', height)
    .style('display', 'block');

// topography
svg.append('path')
    .datum(swathDist)
    .attr('fill', '#c6c6c6')
    .attr('d', d3.area()
        .x(function (d) { return x(d); })
        .y0(function (d, i) { return y(swathBottom[i]); })
        .y1(function (d, i) { return y(swathTop[i]); }));

svg.append('path')
    .datum(profileDist)
    .attr('fill', 'none')
    .attr('stroke', '#111')
    .attr('stroke-width', 1.2)
    .attr('d', d3.line()
        .x(function (d) { return x(d); })
        .y(function (d, i) { return y(profileDepth[i]); }));

// earthquakes
var events = d3.merge(eventGroups);
svg.append('g')
    .selectAll('circle')
    .data(events)
    .enter()
    .append('circle')
    .attr('cx', function (d) { return x(d[0]); })
    .attr('cy', function (d) { return y(d[1]); })
    .attr('r', function (d) { return radius(d[2]); })
    .attr('fill', function (d) { return color(d[1]); })
    .attr('fill-opacity', 0.58)
    .attr('stroke', '#111')
    .attr('stroke-opacity', 0.65)
    .attr('stroke-width', 1);

// focal mechanisms
var arc = d3.arc().innerRadius(0);
var toRad = Math.PI / 180;
var mechs = svg.append('g')
    .selectAll('g')
    .data(mechDist)
    .enter()
    .append('g')
    .attr('transform', function (d, i) { return 'translate(' + x(d) + ',' + y(mechDepth[i]) + ')'; });

mechs.append('circle')
    .attr('r', function (d, i) { return radius(mechMag[i]); })
    .attr('fill', '#fff');

mechs.each(function (d, i) {
    var r = radius(mechMag[i]);
    var lobes = mechLobes[i];
    var g = d3.select(this);
    [0, 2].forEach(function (k) {
        g.append('path')
            .attr('fill', color(mechDepth[i]))
            .attr('d', arc({ outerRadius: r, startAngle: lobes[k] * toRad, endAngle: lobes[k + 1] * toRad }));
    });
});

mechs.append('circle')
    .attr('r', function (d, i) { return radius(mechMag[i]); })
    .attr('fill', 'none')
    .attr('stroke', '#111')
    .attr('stroke-width', 1.3);

// halo round the main shock, dims what is behind the rings
var mainIndex = 4;
var cx = x(mechDist[mainIndex]);
var cy = y(mechDepth[mainIndex]);
var ringPx = ringRadiiKm.map(function (d) { return x(d) - x(0); });

svg.append('path')
    .attr('transform', 'translate(' + cx + ',' + cy + ')')
    .attr('fill', '#fff')
    .attr('fill-opacity', 0.6)
    .attr('d', d3.arc().innerRadius(ringPx[0]).outerRadius(ringPx[2]).startAngle(0).endAngle(2 * Math.PI)());

svg.append('g')
    .selectAll('circle')
    .data(ringPx)
    .enter()
    .append('circle')
    .attr('cx', cx)
    .attr('cy', cy)
    .attr('r', function (d) { return d; })
    .attr('fill', 'none')
    .attr('stroke', '#e23b3b')
    .attr('stroke-width', function (d, i) { return [5, 4, 3][i]; })
    .attr('stroke-opacity', function (d, i) { return [0.9, 0.8, 0.6][i]; });

// labels with leader lines
var labelBoxes = [{ idx: 4, dx: 13, dy: -50, w: 157, h: 26 }, { idx: 6, dx: 51, dy: -50, w: 157, h: 25 }];
labelBoxes.forEach(function (b, i) {
    var mx = x(mechDist[b.idx]);
    var my = y(mechDepth[b.idx]);
    svg.append('line')
        .attr('x1', mx)
        .attr('y1', my)
        .attr('x2', mx + b.dx + 13)
        .attr('y2', my + b.dy + b.h)
        .attr('stroke', '#111')
        .attr('stroke-width', 1.5);
    svg.append('rect')
        .attr('x', mx + b.dx)
        .attr('y', my + b.dy)
        .attr('width', b.w)
        .attr('height', b.h)
        .attr('fill', '#fff')
        .attr('stroke', '#333')
        .attr('stroke-width', 1);
    svg.append('text')
        .attr('x', mx + b.dx + b.w / 2)
        .attr('y', my + b.dy + b.h / 2 + 7)
        .attr('text-anchor', 'middle')
        .style('font-size', '19.5px')
        .text(quakeLabels[i]);
});

// axes
function drawAxis(axisFn, scale, major, minor, tx, ty, pad) {
    var g = svg.append('g').attr('class', 'axis').attr('transform', 'translate(' + tx + ',' + ty + ')');
    g.call(axisFn(scale).tickValues(minor).tickSizeInner(5).tickSizeOuter(0).tickFormat(''));
    g.select('.domain').attr('stroke-width', 2);
    var g2 = svg.append('g').attr('class', 'axis').attr('transform', 'translate(' + tx + ',' + ty + ')');
    g2.call(axisFn(scale).tickValues(major).tickSizeInner(10).tickSizeOuter(0).tickPadding(pad).tickFormat(d3.format('d')));
    g2.select('.domain').attr('stroke-width', 2);
    return g2;
}

drawAxis(d3.axisBottom, x, xMajor, xMinor, 0, 836, 11);
drawAxis(d3.axisLeft, y, yMajor, yMinor, 111, 0, 11);
var rightAxis = drawAxis(d3.axisRight, y, yMajor, yMinor, 1068, 0, 10);
rightAxis.selectAll('text').attr('text-anchor', 'end').attr('x', 45);

svg.append('text')
    .attr('x', 589)
    .attr('y', 895)
    .attr('text-anchor', 'middle')
    .style('font-size', '15.5px')
    .text('Distance (km)');

[48, 1138.5].forEach(function (tx) {
    svg.append('text')
        .attr('transform', 'translate(' + tx + ',437) rotate(-90)')
        .attr('text-anchor', 'middle')
        .style('font-size', '15px')
        .text('Depth (km)');
});

// profile ends
svg.append('text').attr('x', x(0)).attr('y', 33).attr('text-anchor', 'middle').style('font-size', '20px').text('A');
svg.append('text').attr('x', x(337)).attr('y', 33).attr('text-anchor', 'middle').style('font-size', '20px').text('A\u2019');
svg.append('path')
    .attr('d', 'M' + (x(0) - 6) + ',37 h12 l-6,11 z')
    .attr('fill', '#111');
svg.append('path')
    .attr('d', 'M' + (x(337) - 6.5) + ',37 h13 l-6.5,11 z')
    .attr('fill', '#fff')
    .attr('stroke', '#555');
</script>
</body>
</html>
